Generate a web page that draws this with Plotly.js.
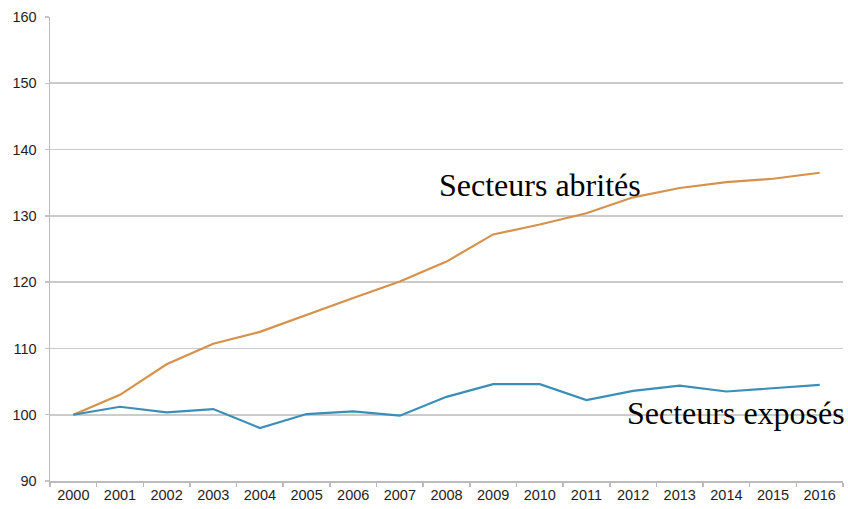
<!DOCTYPE html>
<html>
<head>
<meta charset="utf-8">
<script src="https://cdn.plot.ly/plotly-3.0.1.min.js"></script>
<style>html,body{margin:0;padding:0;background:#fff;}#chart{width:848px;height:509px;}</style>
</head>
<body>
<div id="chart"></div>
<script>
const years = ["2000","2001","2002","2003","2004","2005","2006","2007","2008","2009","2010","2011","2012","2013","2014","2015","2016"];
const abrites = [100, 103.0, 107.6, 110.7, 112.5, 115.1, 117.6, 120.1, 123.1, 127.2, 128.7, 130.4, 132.8, 134.2, 135.1, 135.6, 136.5];
const exposes = [100, 101.2, 100.35, 100.85, 98.0, 100.1, 100.5, 99.85, 102.7, 104.6, 104.6, 102.2, 103.6, 104.4, 103.5, 104.0, 104.5];
const yTicks = [90, 100, 110, 120, 130, 140, 150, 160];
const labelAbrites = "Secteurs abrités";
const labelExposes = "Secteurs exposés";

const traces = [
  {x: years, y: abrites, type: "scatter", mode: "lines", name: labelAbrites,
   line: {color: "#D6914B", width: 2.2}},
  {x: years, y: exposes, type: "scatter", mode: "lines", name: labelExposes,
   line: {color: "#3A8EB8", width: 2.2}}
];

const serif = "Liberation Serif, Times New Roman, serif";
const layout = {
  width: 848, height: 509,
  margin: {l: 50, r: 5, t: 17, b: 28},
  paper_bgcolor: "#fff", plot_bgcolor: "#fff",
  showlegend: false,
  font: {family: "Liberation Sans, Arial, sans-serif", size: 14, color: "#222"},
  xaxis: {
    type: "category",
    tickson: "boundaries",
    ticks: "outside", ticklen: 4, tickcolor: "#bbb", tickwidth: 1.5,
    showgrid: false, zeroline: false,
    showline: true, linecolor: "#bbb", linewidth: 1.5,
    tickfont: {size: 14.5, color: "#1e1e1e"},
    range: [-0.5, 16.5]
  },
  yaxis: {
    range: [90, 160],
    tickvals: yTicks,
    ticks: "outside", ticklen: 4, tickcolor: "#c4c4c4", tickwidth: 1.5,
    showgrid: true, gridcolor: "#cbcbcb", gridwidth: 1.8,
    zeroline: false,
    showline: true, linecolor: "#bbb", linewidth: 1.5,
    tickfont: {size: 14.5, color: "#1e1e1e"},
    ticklabelstandoff: 5
  },
  annotations: [
    {x: years.indexOf("2010"), y: 134.7, xref: "x", yref: "y", text: labelAbrites, showarrow: false,
     xanchor: "center", yanchor: "middle",
     font: {family: serif, size: 32, color: "#000"}},
    {x: years.indexOf("2014"), y: 100.3, xref: "x", yref: "y", text: labelExposes, showarrow: false,
     xanchor: "center", yanchor: "middle", xshift: 10,
     font: {family: serif, size: 32, color: "#000"}}
  ]
};

Plotly.newPlot("chart", traces, layout, {displayModeBar: false, staticPlot: true});
</script>
</body>
</html>
